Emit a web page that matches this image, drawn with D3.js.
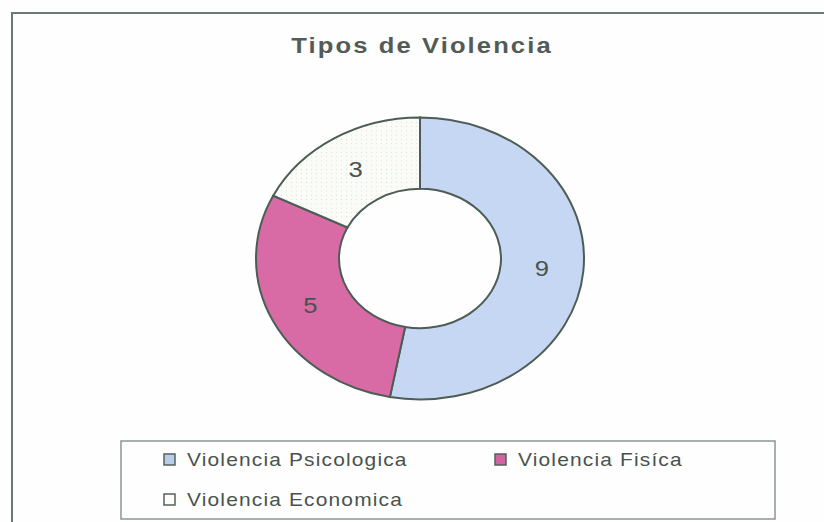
<!DOCTYPE html>
<html>
<head>
<meta charset="utf-8">
<script src="https://cdn.jsdelivr.net/npm/d3@7"></script>
<style>
  body { margin: 0; background: #fdfefd; }
  svg { display: block; }
</style>
</head>
<body>
<div id="chart"></div>
<script>
// Data
const categories = ["Violencia Psicologica", "Violencia Fisíca", "Violencia Economica"]
const values = [9, 5, 3]
const colors = ["#c5d7f3", "#d86ba5", "url(#dots)"]
const swatch = ["#b9cdea", "#cf66a0", "#fbfcf8"]

const width = 824, height = 522
// the scanned picture is stretched sideways relative to its height
const sx = 164 / 141

const svg = d3.select("#chart")
  .append("svg")
  .attr("width", width)
  .attr("height", height)

// dotted fill for the white slice
const pat = svg.append("defs").append("pattern")
  .attr("id", "dots")
  .attr("width", 5).attr("height", 5)
  .attr("patternUnits", "userSpaceOnUse")
pat.append("rect").attr("width", 5).attr("height", 5).attr("fill", "#fbfcf8")
pat.append("circle").attr("cx", 1.5).attr("cy", 1.5).attr("r", 0.6).attr("fill", "#c9dcd6")

// outer frame
svg.append("rect")
  .attr("x", 12).attr("y", 13)
  .attr("width", 830).attr("height", 530)
  .attr("fill", "none")
  .attr("stroke", "#6b7b73")
  .attr("stroke-width", 2)

// title
svg.append("g")
  .attr("transform", `translate(422,53) scale(${sx},1)`)
  .append("text")
  .attr("text-anchor", "middle")
  .attr("font-family", "Liberation Sans, Arial, sans-serif")
  .attr("font-weight", "bold")
  .attr("font-size", 22)
  .attr("letter-spacing", 1.8)
  .attr("fill", "#535b57")
  .text("Tipos de Violencia")

// donut
const cx = 420, cy = 258.5
const rOuter = 164, rInner = 81
const sy = 1 / sx

const pie = d3.pie().sort(null).value(d => d)
const arcs = pie(values)
const arc = d3.arc().innerRadius(rInner).outerRadius(rOuter)

const g = svg.append("g")
  .attr("transform", `translate(${cx},${cy}) scale(1,${sy})`)

g.selectAll("path")
  .data(arcs)
  .join("path")
  .attr("d", arc)
  .attr("fill", (d, i) => colors[i])
  .attr("stroke", "#4d5d55")
  .attr("stroke-width", 2)
  .attr("vector-effect", "non-scaling-stroke")

svg.append("g")
  .selectAll("g")
  .data(arcs)
  .join("g")
  .attr("transform", d => `translate(${cx + arc.centroid(d)[0]},${cy + arc.centroid(d)[1] * sy}) scale(${sx},1)`)
  .append("text")
  .attr("dy", "0.36em")
  .attr("text-anchor", "middle")
  .attr("font-family", "Liberation Sans, Arial, sans-serif")
  .attr("font-size", 22)
  .attr("fill", "#4a524e")
  .text(d => d.data)

// legend
svg.append("rect")
  .attr("x", 121).attr("y", 441)
  .attr("width", 654).attr("height", 78)
  .attr("fill", "none")
  .attr("stroke", "#8a9690")
  .attr("stroke-width", 1.5)

const legPos = [[164, 466], [495, 466], [164, 506]]
const leg = svg.append("g")
  .selectAll("g")
  .data(categories)
  .join("g")
  .attr("transform", (d, i) => `translate(${legPos[i][0]},${legPos[i][1]})`)

leg.append("rect")
  .attr("x", 0).attr("y", -12)
  .attr("width", 11).attr("height", 11)
  .attr("fill", (d, i) => swatch[i])
  .attr("stroke", "#55625c")
  .attr("stroke-width", 1.5)

leg.append("g")
  .attr("transform", `translate(23,0) scale(${sx},1)`)
  .append("text")
  .attr("font-family", "Liberation Sans, Arial, sans-serif")
  .attr("font-size", 18)
  .attr("letter-spacing", 1.0)
  .attr("fill", "#4a524e")
  .text(d => d)
</script>
</body>
</html>
